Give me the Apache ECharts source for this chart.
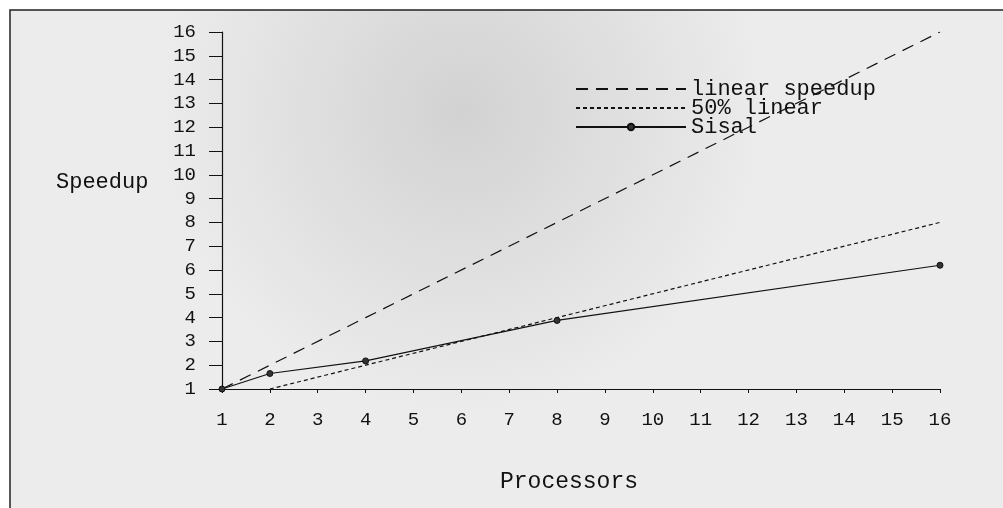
<!DOCTYPE html>
<html>
<head>
<meta charset="utf-8">
<script src="https://cdn.jsdelivr.net/npm/echarts@6/dist/echarts.min.js"></script>
<style>
  html, body { margin: 0; padding: 0; background: #fff; }
  #main { width: 1003px; height: 508px; }
</style>
</head>
<body>
<div id="main"></div>
<script>
// processors used in runs
const procs = [1, 2, 4, 8, 16];
// ideal speedup
const linearSpeedup = [1, 2, 4, 8, 16];
// half of ideal (starts at 2 procs, below axis otherwise)
const halfLinear = [null, 1, 2, 4, 8];
// measured Sisal speedup
const sisal = [1, 1.65, 2.18, 3.88, 6.2];
const ticks = [1, 2, 3, 4, 5, 6, 7, 8, 9, 10, 11, 12, 13, 14, 15, 16];

const font = '"Courier New", "Liberation Mono", monospace';

const toPairs = (ys) => procs.map((x, i) => [x, ys[i]]).filter(p => p[1] != null);

const chart = echarts.init(document.getElementById('main'));

const option = {
    animation: false,
    backgroundColor: '#fff',
    graphic: [
        {
            type: 'rect',
            z: -10,
            shape: { x: 10, y: 10, width: 1003, height: 508 },
            style: {
                fill: {
                    type: 'radial', x: 0.45, y: 0.2, r: 0.6,
                    colorStops: [
                        { offset: 0, color: '#d2d2d2' },
                        { offset: 1, color: '#ececec' }
                    ]
                },
                stroke: '#222',
                lineWidth: 1.5
            }
        },
        {
            type: 'text', left: 56, top: 171,
            style: { text: 'Speedup', font: '22px ' + font, fill: '#111' }
        },
        {
            type: 'text', left: 500, top: 470,
            style: { text: 'Processors', font: '23px ' + font, fill: '#111' }
        }
    ],
    grid: { left: 222, right: 63, top: 32, bottom: 119 },
    legend: {
        orient: 'vertical',
        left: 570,
        top: 73,
        itemWidth: 110,
        itemHeight: 8,
        itemGap: -3,
        textStyle: { fontFamily: font, fontSize: 22, color: '#111', padding: [0, 0, 0, 0] },
        data: [
            { name: 'linear speedup', itemStyle: { opacity: 0 } },
            { name: '50% linear', itemStyle: { opacity: 0 } },
            { name: 'Sisal' }
        ]
    },
    xAxis: {
        type: 'value',
        min: 1, max: 16, interval: 1,
        axisLine: { show: true, lineStyle: { color: '#111', width: 1.2 } },
        axisTick: { show: true, length: 4, inside: false, lineStyle: { color: '#111' } },
        axisLabel: {
            fontFamily: font, fontSize: 19, color: '#111', margin: 21,
            formatter: (v) => ticks.includes(v) ? String(v) : ''
        },
        splitLine: { show: false }
    },
    yAxis: {
        type: 'value',
        min: 1, max: 16, interval: 1,
        axisLine: { show: true, lineStyle: { color: '#111', width: 1.2 } },
        axisTick: { show: true, length: 13, lineStyle: { color: '#111' } },
        axisLabel: {
            fontFamily: font, fontSize: 19, color: '#111', margin: 26,
            formatter: (v) => ticks.includes(v) ? String(v) : ''
        },
        splitLine: { show: false }
    },
    series: [
        {
            name: 'linear speedup',
            type: 'line',
            data: toPairs(linearSpeedup),
            symbol: 'none',
            lineStyle: { color: '#111', width: 1.2, type: [12, 8] },
            itemStyle: { color: '#111' }
        },
        {
            name: '50% linear',
            type: 'line',
            data: toPairs(halfLinear),
            symbol: 'none',
            lineStyle: { color: '#111', width: 1.2, type: [4, 3] },
            itemStyle: { color: '#111' }
        },
        {
            name: 'Sisal',
            type: 'line',
            data: toPairs(sisal),
            symbol: 'circle',
            symbolSize: 6,
            lineStyle: { color: '#111', width: 1.2 },
            itemStyle: { color: '#333', borderColor: '#111', borderWidth: 1 }
        }
    ]
};

chart.setOption(option);
</script>
</body>
</html>
